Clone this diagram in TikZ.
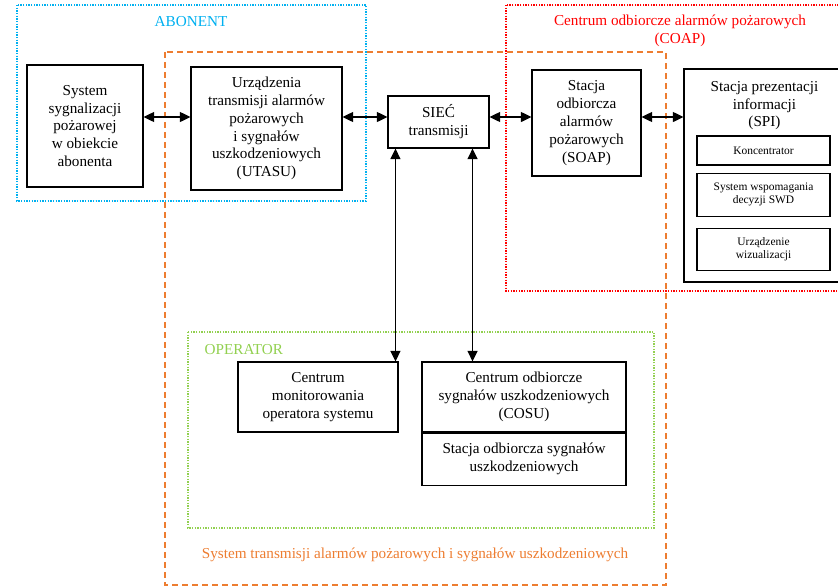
\documentclass[tikz,border=0pt]{standalone}
\usepackage{fontspec}
\setmainfont{Liberation Serif}
\usetikzlibrary{positioning,arrows.meta}

\definecolor{abonentblue}{HTML}{00B0F0}
\definecolor{opgreen}{HTML}{92D050}
\definecolor{stasorange}{HTML}{ED7D31}

\begin{document}
\begin{tikzpicture}[
    x=0.75pt,y=-0.75pt,
    font=\fontsize{11.4}{13.4}\selectfont,
    base/.style={rectangle,draw,line width=0.8pt,align=center,inner sep=2pt},
    block/.style={base},
    smallblock/.style={base,minimum width=99.75pt,font=\fontsize{8.6}{10}\selectfont},
    link/.style={line width=1.1pt,{Triangle[length=8pt,width=7.5pt]}-{Triangle[length=8pt,width=7.5pt]}},
    zone/.style={line width=1.1pt,dash pattern=on 1pt off 1pt},
    syszone/.style={line width=1.1pt,dash pattern=on 4.5pt off 3pt,stasorange}
  ]

  \clip (0,0) rectangle (838,586);

  \draw[zone,abonentblue] (17,5) rectangle (366,201);
  \draw[zone,red] (506,5) rectangle (845,291);
  \draw[syszone] (165,52) rectangle (666,585);
  \draw[zone,opgreen] (188,332) rectangle (654,528);

  \node(abonent) [text=abonentblue] at (191,22) {ABONENT};
  \node(coap) [text=red,align=center] at (680,31) {Centrum odbiorcze alarmów pożarowych\\(COAP)};
  \node(operator) [text=opgreen,anchor=west] at (200,350) {OPERATOR};
  \node(stas) [text=stasorange] at (415,555) {System transmisji alarmów pożarowych i sygnałów uszkodzeniowych};

  \node(sss) [block,minimum width=87pt,minimum height=91.5pt] at (85,126)
    {System\\sygnalizacji\\pożarowej\\w obiekcie\\abonenta};
  \node(utasu) [block,minimum width=113.25pt,minimum height=92.25pt] at (266.5,128.5)
    {Urządzenia\\transmisji alarmów\\pożarowych\\i sygnałów\\uszkodzeniowych\\(UTASU)};
  \node(siec) [block,minimum width=75.75pt,minimum height=39pt] at (438.5,122) {SIEĆ\\transmisji};
  \node(soap) [block,minimum width=81.75pt,minimum height=79.5pt] at (586.5,123)
    {Stacja\\odbiorcza\\alarmów\\pożarowych\\(SOAP)};

  \node(spi) [block,minimum width=120.75pt,minimum height=159.75pt] at (764.5,175.5) {};
  \node(spititle) [below=6pt of spi.north,align=center] {Stacja prezentacji\\informacji\\(SPI)};
  \node(konc) [smallblock,minimum height=21.75pt] at (763.5,150.5) {Koncentrator};
  \node(swd) [smallblock,minimum height=32.25pt,below=5.25pt of konc] {System wspomagania\\decyzji SWD};
  \node(wiz) [smallblock,minimum height=31.5pt,below=8.25pt of swd] {Urządzenie\\wizualizacji};

  \node(mon) [block,minimum width=120pt,minimum height=52.5pt] at (318,397)
    {Centrum\\monitorowania\\operatora systemu};
  \node(cosu) [block,minimum width=153pt,minimum height=52.5pt] at (524,397)
    {Centrum odbiorcze\\sygnałów uszkodzeniowych\\(COSU)};
  \node(sosu) [block,minimum width=153pt,minimum height=39pt,below=0pt of cosu]
    {Stacja odbiorcza sygnałów\\uszkodzeniowych};

  \coordinate(lvl) at (0,117);
  \coordinate(down1) at ([xshift=6pt]siec.south west);
  \coordinate(down2) at ([xshift=-12.75pt]siec.south east);

  \draw[link] (sss.east |- lvl) -- (utasu.west |- lvl);
  \draw[link] (utasu.east |- lvl) -- (siec.west |- lvl);
  \draw[link] (siec.east |- lvl) -- (soap.west |- lvl);
  \draw[link] (soap.east |- lvl) -- (spi.west |- lvl);
  \draw[link] (down1) -- (down1 |- mon.north);
  \draw[link] (down2) -- (down2 |- cosu.north);

\end{tikzpicture}
\end{document}
